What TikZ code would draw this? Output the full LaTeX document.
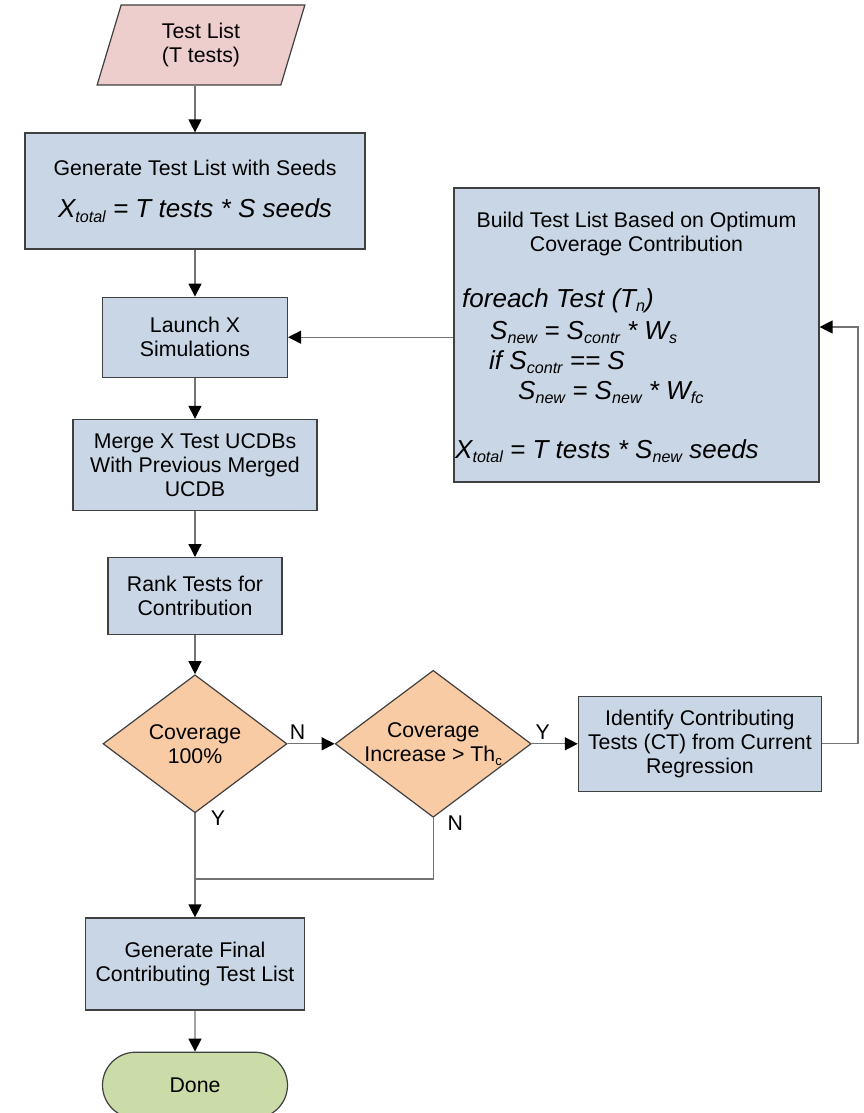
\documentclass[tikz,border=0pt]{standalone}
\usepackage{fontspec}
\setmainfont{Liberation Sans}
\usetikzlibrary{shapes.geometric, shapes.misc, arrows.meta, positioning}

\definecolor{boxblue}{HTML}{C9D6E5}
\definecolor{listpink}{HTML}{EECDCD}
\definecolor{decpeach}{HTML}{F9CBA5}
\definecolor{donegreen}{HTML}{CCDCA9}
\definecolor{edgegray}{HTML}{404040}
\definecolor{linegray}{HTML}{737373}

\newcommand{\lowtext}[1]{\raisebox{-0.35ex}{\scalebox{0.62}{#1}}}
\newcommand{\formulafont}{\fontsize{26}{30}\selectfont\itshape}

\begin{document}
\begin{tikzpicture}[x=1pt, y=1pt, >={Triangle[length=13pt, width=13pt, color=black]},
    font=\fontsize{21.3}{24}\selectfont,
    box/.style={rectangle, draw=edgegray, fill=boxblue, line width=1.2pt, align=center, inner sep=0pt},
    decision/.style={diamond, aspect=1.33, draw=edgegray, fill=decpeach, line width=1.2pt, align=center, inner sep=0pt},
    io/.style={trapezium, trapezium left angle=75, trapezium right angle=105, trapezium stretches=true, draw=edgegray, fill=listpink, line width=1.2pt, align=center, inner sep=0pt},
    term/.style={rounded rectangle, draw=edgegray, fill=donegreen, line width=1.2pt, inner sep=0pt},
    flow/.style={->, draw=linegray, line width=1.3pt},
    link/.style={draw=linegray, line width=1.3pt},
    lbl/.style={inner sep=0pt}]
        \useasboundingbox (0,0) rectangle (863,-1113);

        \node[io, minimum width=208pt, minimum height=80pt] (list) at (201,-45) {Test List\\(T tests)};
        \node[box, minimum width=340pt, minimum height=116pt] (gen) at (195,-191) {Generate Test List with Seeds\\[18pt]{\formulafont X\lowtext{total} = T tests * S seeds}};
        \node[box, minimum width=185pt, minimum height=80pt, below=47pt of gen] (launch) {Launch X\\Simulations};
        \node[box, minimum width=244pt, minimum height=91pt, below=41pt of launch] (merge) {Merge X Test UCDBs\\With Previous Merged\\UCDB};
        \node[box, minimum width=174pt, minimum height=77pt, below=46pt of merge] (rank) {Rank Tests for\\Contribution};
        \node[decision, minimum width=184pt, minimum height=138pt, below=39pt of rank] (cov1) {Coverage\\100\%};
        \node[decision, minimum width=196pt, minimum height=147pt, right=47pt of cov1] (cov2) {Coverage\\Increase > Th\lowtext{c}};
        \node[box, minimum width=243pt, minimum height=95pt, right=46pt of cov2] (ident) {Identify Contributing\\Tests (CT) from Current\\Regression};
        \node[box, minimum width=219pt, minimum height=92pt, below=104pt of cov1] (final) {Generate Final\\Contributing Test List};
        \node[term, minimum width=185pt, minimum height=66pt, below=41pt of final] (done) {Done};

        \node[box, minimum width=365pt, minimum height=294pt] (build) at (636.5,-335) {};
        \node[align=center] (buildtitle) at (636.5,-233.5) {Build Test List Based on Optimum\\Coverage Contribution};
        \node[align=left, anchor=north west, font=\formulafont, inner sep=0pt] (buildcode) at (455,-288) {\hspace*{7pt}foreach Test (T\lowtext{n})\\[2pt]
            \hspace*{35pt}S\lowtext{new} = S\lowtext{contr} * W\lowtext{s}\\
            \hspace*{34pt}if S\lowtext{contr} == S\\
            \hspace*{63pt}S\lowtext{new} = S\lowtext{new} * W\lowtext{fc}\\[29pt]
            X\lowtext{total} = T tests * S\lowtext{new} seeds};

        \node[lbl] (n1) at ([shift={(10,12)}]cov1.east) {N};
        \node[lbl] (y1) at ([shift={(11,12)}]cov2.east) {Y};
        \node[lbl] (y2) at ([shift={(23,-5)}]cov1.south) {Y};
        \node[lbl] (n2) at ([shift={(22,-5)}]cov2.south) {N};

        \coordinate (join) at (cov1.south |- 0,-879);
        \coordinate (turn) at (858,-327);

        \draw[flow] (gen.north |- list.south) -- (gen.north);
        \draw[flow] (gen) -- (launch);
        \draw[flow] (launch) -- (merge);
        \draw[flow] (merge) -- (rank);
        \draw[flow] (rank) -- (cov1);
        \draw[flow] (cov1) -- (final);
        \draw[flow] (final) -- (done);
        \draw[flow] (cov1) -- (cov2);
        \draw[flow] (cov2) -- (ident);
        \draw[link] (cov2.south) |- (join);
        \draw[flow] (ident.east) -| (turn) -- (turn -| build.east);
        \draw[flow] (build.west |- launch.east) -- (launch.east);
    \end{tikzpicture}
\end{document}
